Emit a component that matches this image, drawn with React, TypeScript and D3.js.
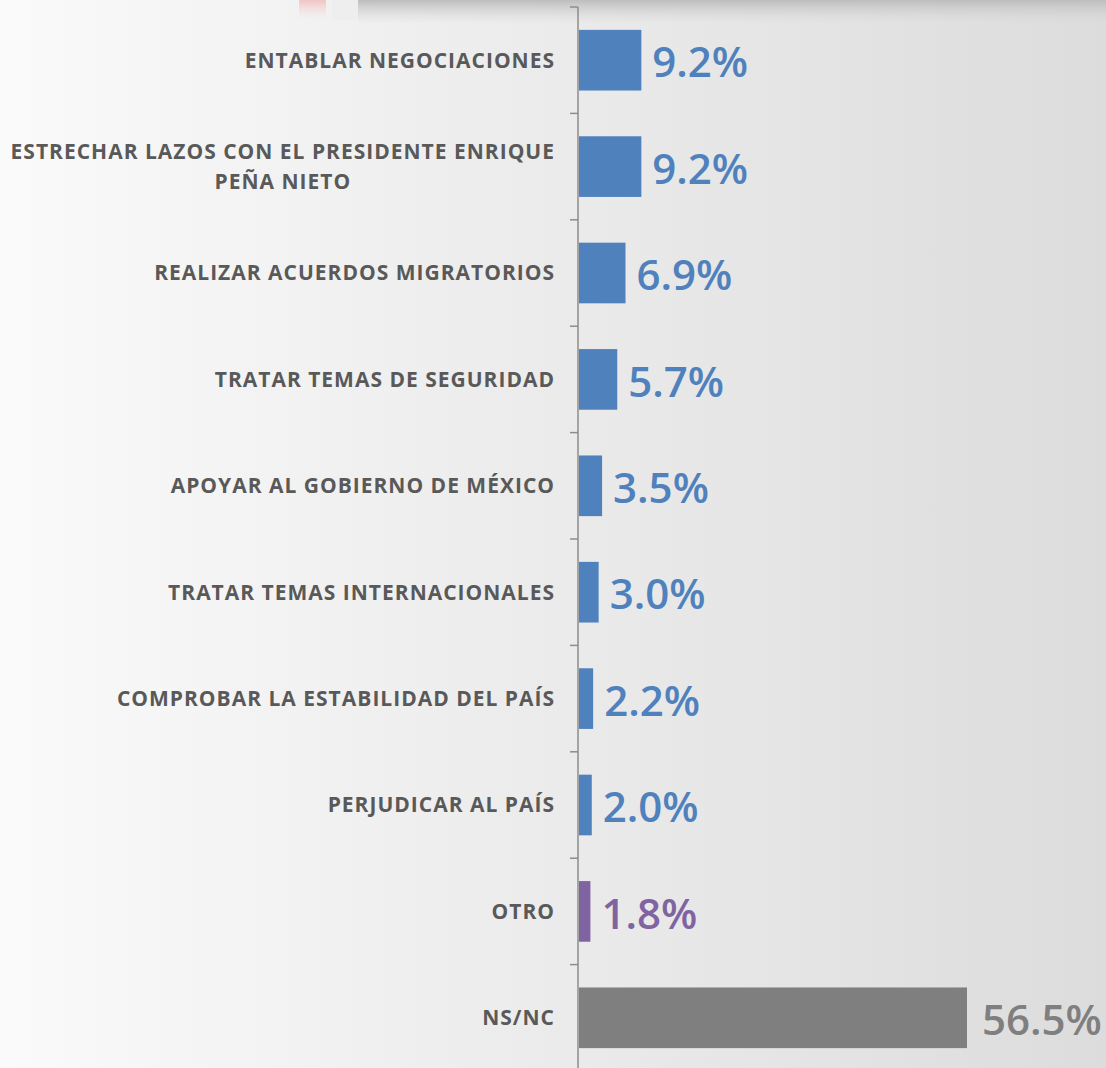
import React, { useEffect, useRef } from "react";
import * as d3 from "d3";

const categories: string[][] = [
  ["ENTABLAR NEGOCIACIONES"],
  ["ESTRECHAR LAZOS CON EL PRESIDENTE ENRIQUE", "PEÑA NIETO"],
  ["REALIZAR ACUERDOS MIGRATORIOS"],
  ["TRATAR TEMAS DE SEGURIDAD"],
  ["APOYAR AL GOBIERNO DE MÉXICO"],
  ["TRATAR TEMAS INTERNACIONALES"],
  ["COMPROBAR LA ESTABILIDAD DEL PAÍS"],
  ["PERJUDICAR AL PAÍS"],
  ["OTRO"],
  ["NS/NC"],
];
const values: number[] = [9.2, 9.2, 6.9, 5.7, 3.5, 3.0, 2.2, 2.0, 1.8, 56.5];
const colors: string[] = [
  "#4f81bd", "#4f81bd", "#4f81bd", "#4f81bd", "#4f81bd",
  "#4f81bd", "#4f81bd", "#4f81bd", "#8064a2", "#7f7f7f",
];

const W = 1106;
const H = 1068;

export default function App() {
  const ref = useRef<SVGSVGElement | null>(null);

  useEffect(() => {
    const svg = d3.select(ref.current);
    svg.selectAll("*").remove();

    const defs = svg.append("defs");
    const bg = defs.append("linearGradient").attr("id", "bg").attr("x1", "0").attr("x2", "1").attr("y1", "0").attr("y2", "0");
    bg.append("stop").attr("offset", "0").attr("stop-color", "#fafafa");
    bg.append("stop").attr("offset", "0.5").attr("stop-color", "#ebebeb");
    bg.append("stop").attr("offset", "1").attr("stop-color", "#dcdcdc");
    const sh = defs.append("linearGradient").attr("id", "sh").attr("x1", "0").attr("x2", "0").attr("y1", "0").attr("y2", "1");
    sh.append("stop").attr("offset", "0").attr("stop-color", "#bdbdbd").attr("stop-opacity", 1);
    sh.append("stop").attr("offset", "1").attr("stop-color", "#d8d8d8").attr("stop-opacity", 0);
    const pk = defs.append("linearGradient").attr("id", "pk").attr("x1", "0").attr("x2", "0").attr("y1", "0").attr("y2", "1");
    pk.append("stop").attr("offset", "0").attr("stop-color", "#f0c4c4").attr("stop-opacity", 1);
    pk.append("stop").attr("offset", "1").attr("stop-color", "#f3e4e4").attr("stop-opacity", 0);

    svg.append("rect").attr("width", W).attr("height", H).attr("fill", "url(#bg)");
    svg.append("rect").attr("x", 299).attr("y", 0).attr("width", 27).attr("height", 20).attr("fill", "url(#pk)");
    svg.append("rect").attr("x", 332).attr("y", 0).attr("width", 26).attr("height", 20).attr("fill", "#ececec").attr("opacity", 0.7);
    svg.append("rect").attr("x", 358).attr("y", 0).attr("width", W - 358).attr("height", 24).attr("fill", "url(#sh)");

    const step = 106.4;
    const y0 = 7;
    const y = d3
      .scaleBand<number>()
      .domain(d3.range(categories.length))
      .range([y0, y0 + step * categories.length])
      .paddingInner(0.43)
      .paddingOuter(0.215);
    const x = d3.scaleLinear().domain([0, 56.5]).range([578, 967]);

    // bars
    svg
      .append("g")
      .selectAll("rect")
      .data(values)
      .join("rect")
      .attr("x", x(0) + 1)
      .attr("y", (_, i) => y(i)!)
      .attr("width", (d) => x(d) - x(0) - 1)
      .attr("height", y.bandwidth())
      .attr("fill", (_, i) => colors[i]);

    // axis
    const ax = svg.append("g").attr("stroke", "#8c8c8c").attr("stroke-width", 1.5);
    ax.append("line").attr("x1", 578).attr("x2", 578).attr("y1", y0).attr("y2", H);
    d3.range(categories.length + 1).forEach((i) => {
      const yy = y0 + i * step;
      ax.append("line").attr("x1", 570).attr("x2", 578).attr("y1", yy).attr("y2", yy);
    });

    // category labels
    const lg = svg
      .append("g")
      .attr("fill", "#595959")
      .style("font-family", "'Open Sans', sans-serif")
      .style("font-weight", 700)
      .style("font-size", "21px")
      .style("letter-spacing", "1px");
    const rightX = 555;
    categories.forEach((lines, i) => {
      const cy = y(i)! + y.bandwidth() / 2;
      if (lines.length === 1) {
        lg.append("text").attr("x", rightX).attr("y", cy).attr("dy", "0.35em").attr("text-anchor", "end").text(lines[0]);
      } else {
        const t1 = lg.append("text").attr("x", rightX).attr("y", cy - 15).attr("dy", "0.35em").attr("text-anchor", "end").text(lines[0]);
        const w1 = (t1.node() as SVGTextElement).getComputedTextLength();
        const cx = rightX - w1 / 2;
        lg.append("text").attr("x", cx).attr("y", cy + 15).attr("dy", "0.35em").attr("text-anchor", "middle").text(lines[1]);
      }
    });

    // value labels
    svg
      .append("g")
      .style("font-family", "'Open Sans', sans-serif")
      .style("font-weight", 600)
      .style("font-size", "42px")
      .selectAll("text")
      .data(values)
      .join("text")
      .attr("x", (d, i) => x(d) + (i === values.length - 1 ? 15 : 11))
      .attr("y", (_, i) => y(i)! + y.bandwidth() / 2 + 2)
      .attr("dy", "0.36em")
      .attr("fill", (_, i) => colors[i])
      .text((d) => d.toFixed(1) + "%");
  }, []);

  return (
    <svg
      ref={ref}
      width={W}
      height={H}
      style={{ position: "absolute", left: 0, top: 0, display: "block" }}
    />
  );
}
